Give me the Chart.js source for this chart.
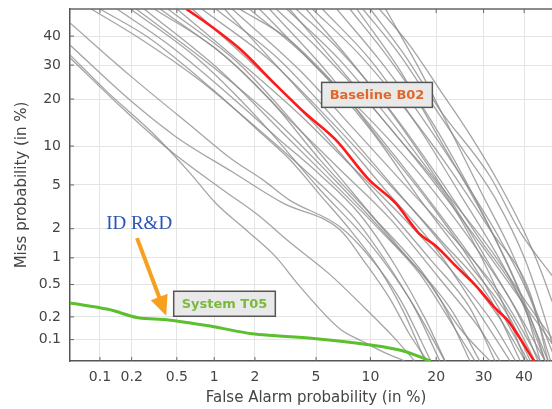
<!DOCTYPE html>
<html>
<head>
<meta charset="utf-8">
<script src="https://cdn.jsdelivr.net/npm/chart.js@4.4.0/dist/chart.umd.min.js"></script>
<style>
  html, body { margin: 0; padding: 0; background: #fff; overflow: hidden; }
  #wrap { width: 562px; height: 409px; }
</style>
</head>
<body>
<div id="wrap"><canvas id="det"></canvas></div>
<script>
'use strict';

// tick labels (percent)
var faTicks = [0.1, 0.2, 0.5, 1, 2, 5, 10, 20, 30, 40];
var missTicks = [0.1, 0.2, 0.5, 1, 2, 5, 10, 20, 30, 40];

// curves as [false alarm %, miss %]
var baselineB02 = [[0.6,50],[0.97,43.2],[1.6,35],[2.77,24],[4.3,16.5],[6.5,11.1],[9.8,5.56],[13.3,3.47],
  [16.9,1.81],[20,1.33],[24,0.8],[28.3,0.48],[32.4,0.27],[36.2,0.17],[42.6,0.05]];

var systemT05 = [[0.05,0.3],[0.12,0.25],[0.23,0.195],[0.41,0.184],[0.97,0.15],[1.9,0.12],[2.8,0.113],
  [5.0,0.103],[9.8,0.085],[14.3,0.07],[19,0.05]];

var otherSystems = [
  [[0.05,44.8],[0.19,26.9],[0.71,13.0],[1.37,7.97],[2.25,5.56],[3.42,3.7],[6.85,2.1],[10,1.0],[13.9,0.337],[19,0.05]],
  [[0.05,36.8],[0.195,19.6],[0.5,11.5],[1.37,6.4],[3.08,3.5],[6.85,1.96],[9.35,0.9],[12.5,0.337],[15.4,0.118],[18.4,0.05]],
  [[0.05,33.4],[0.117,22],[0.32,12.0],[0.63,6.4],[1.03,3.47],[1.75,1.92],[2.77,1.03],[3.96,0.48],[6.85,0.14],[9.15,0.094],[11.5,0.068],[14.6,0.05]],
  [[0.05,32.4],[0.152,18.5],[0.43,9.4],[1.16,4.56],[2.07,2.75],[3.42,1.47],[6.0,0.66],[9.35,0.26],[13.2,0.103],[16.2,0.05]],
  [[0.082,50],[0.234,39.3],[0.76,25.4],[1.93,14.0],[3.42,8.4],[5.45,4.87],[8.3,2.5],[11.8,0.95],[16.2,0.26],[20.7,0.05]],
  [[0.1,50],[0.288,39.3],[0.98,22.5],[2.07,13.0],[3.42,8.0],[5.25,4.16],[7.8,1.96],[11.1,0.755],[14.6,0.22],[18,0.05]],
  [[0.146,50],[0.43,36.8],[1.3,21.1],[2.94,11.1],[5.25,6.1],[8.8,2.75],[13.2,0.83],[18,0.19],[21.7,0.05]],
  [[0.195,50],[0.76,31.7],[2.15,15.0],[5.25,4.6],[10,1.4],[15.4,0.337],[21.7,0.05]],
  [[0.22,50],[0.92,30.3],[2.52,16.2],[6.0,6.1],[12.5,1.57],[20.7,0.337],[26.9,0.05]],
  [[0.36,50],[1.3,31.7],[3.42,15.0],[6.85,6.7],[12.5,2.5],[20.7,0.58],[29.1,0.14],[33.9,0.05]],
  [[0.42,50],[1.55,30.3],[3.96,13.0],[7.8,4.6],[13.9,1.25],[22.7,0.26],[29.1,0.05]],
  [[0.5,50],[1.83,28.4],[3.96,16.2],[7.8,7.3],[13.9,2.75],[22.7,0.755],[31.5,0.19],[37.8,0.05]],
  [[0.67,50],[2.15,28.4],[5.25,13.0],[11.1,3.76],[19,0.95],[26.9,0.26],[32.7,0.05]],
  [[0.8,50],[2.52,31.7],[6.0,15.0],[12.5,5.0],[20.7,1.57],[31.5,0.337],[39,0.05]],
  [[1.03,50],[2.94,31.7],[6.85,14.0],[13.9,4.16],[22.7,1.1],[33.9,0.19],[40.3,0.05]],
  [[1.37,50],[3.96,28.4],[7.8,14.0],[13.9,5.56],[22.7,1.77],[33.9,0.39],[44.2,0.05]],
  [[1.55,50],[3.42,38.6],[6.85,22.5],[12.5,9.4],[20.7,2.75],[29.1,0.755],[37.8,0.165],[42.8,0.05]],
  [[1.83,50],[4.55,31.7],[10,13.0],[17.1,3.76],[26.9,0.83],[36.4,0.19],[41.6,0.05]],
  [[2.15,50],[5.25,28.4],[10,15.0],[17.1,6.1],[26.9,1.57],[36.4,0.337],[45.5,0.05]],
  [[2.52,50],[6.0,26.9],[11.1,11.1],[19,3.38],[26.9,0.95],[35.1,0.19],[41,0.05]],
  [[2.8,50],[5.25,35.0],[10,18.5],[17.1,7.3],[26.9,1.96],[36.4,0.5],[47.4,0.088]],
  [[3.28,50],[6.85,31.7],[12.5,15.0],[20.7,5.0],[31.5,1.25],[41.6,0.26],[47.4,0.103]],
  [[3.76,50],[6.85,35.0],[12.5,17.3],[20.7,5.56],[29.1,1.57],[39,0.337],[45.5,0.05]],
  [[4.35,50],[7.8,31.7],[13.9,14.0],[22.7,3.76],[31.5,0.83],[39,0.19],[43.6,0.05]],
  [[4.75,50],[8.8,33.4],[15.4,16.2],[22.7,6.7],[31.5,1.96],[41.6,0.39],[46.3,0.05]],
  [[5.45,50],[10,31.7],[17.1,13.0],[24.8,4.16],[33.9,0.95],[41.6,0.19],[46.3,0.05]],
  [[6.6,50],[11.1,31.7],[17.1,16.2],[24.8,6.1],[33.9,1.57],[41.6,0.337],[47,0.05]],
  [[7.8,50],[12.5,31.7],[19,15.0],[25.8,5.56],[33.9,1.25],[40.3,0.26],[44.2,0.05]],
  [[8.5,50],[13.9,28.4],[20.7,11.1],[29.1,3.06],[36.4,0.755],[42.8,0.14],[45.5,0.05]],
  [[9.15,50],[13.9,33.4],[20,17.3],[25.4,9.4],[32.9,3.76],[40.3,0.95],[45.5,0.19],[47.4,0.088]],
  [[11.1,50],[15.4,36.8],[20.7,22.5],[26.9,12.0],[33.9,5.0],[40.3,1.77],[44.2,0.755],[47.4,0.31]],
  [[10,50],[14.6,33.4],[20.7,17.3],[31.5,5.9],[39,1.85],[47.4,0.63]],
  [[11.9,50],[17.1,28.4],[22.7,13.0],[29.1,4.6],[36.4,1.25],[42.8,0.26],[47.4,0.068]],
  [[0.26,50],[1.1,28.4],[2.94,13.0],[6.0,5.56],[11.1,1.96],[17.1,0.66],[23.7,0.14],[28,0.05]],
  [[1.2,50],[3.2,26.9],[6.4,13.0],[11.8,4.6],[20,1.25],[26.9,0.337],[36.4,0.05]],
  [[0.32,50],[1.07,35],[2.52,20],[5.25,8.0],[10,2.75],[17.1,0.755],[24.8,0.14],[31.5,0.05]],
  [[3.42,50],[7.8,25.4],[13.9,11.1],[21.7,4.16],[29.1,1.1],[35.1,0.26],[40.3,0.05]]
];

// annotation anchors, in percent
var baselineLabelAt = [10.8, 21.1];
var systemLabelAt = [1.2, 0.293];
var vendorLabelAt = [0.234, 2.2];
var arrowFrom = [0.224, 1.61];
var arrowTo = [0.406, 0.207];

// inverse normal CDF (Acklam)
function probit(p) {
  var a = [-39.69683028665376, 220.9460984245205, -275.9285104469687, 138.3577518672690, -30.66479806614716, 2.506628277459239];
  var b = [-54.47609879822406, 161.5858368580409, -155.6989798598866, 66.80131188771972, -13.28068155288572];
  var c = [-0.007784894002430293, -0.3223964580411365, -2.400758277161838, -2.549732539343734, 4.374664141464968, 2.938163982698783];
  var d = [0.007784695709041462, 0.3224671290700398, 2.445134137142996, 3.754408661907416];
  var lo = 0.02425, q, r;
  if (p < lo) {
    q = Math.sqrt(-2 * Math.log(p));
    return (((((c[0]*q+c[1])*q+c[2])*q+c[3])*q+c[4])*q+c[5]) / ((((d[0]*q+d[1])*q+d[2])*q+d[3])*q+1);
  }
  if (p <= 1 - lo) {
    q = p - 0.5; r = q * q;
    return (((((a[0]*r+a[1])*r+a[2])*r+a[3])*r+a[4])*r+a[5])*q / (((((b[0]*r+b[1])*r+b[2])*r+b[3])*r+b[4])*r+1);
  }
  q = Math.sqrt(-2 * Math.log(1 - p));
  return -(((((c[0]*q+c[1])*q+c[2])*q+c[3])*q+c[4])*q+c[5]) / ((((d[0]*q+d[1])*q+d[2])*q+d[3])*q+1);
}

function toPoints(curve) {
  return curve.map(function (p) { return { x: probit(p[0] / 100), y: probit(p[1] / 100) }; });
}

var datasets = [
  { data: toPoints(baselineB02), borderColor: '#ff1a1a', borderWidth: 2.6, order: 0 },
  { data: toPoints(systemT05), borderColor: '#5bbf2e', borderWidth: 3, order: 1 }
];
otherSystems.forEach(function (curve) {
  datasets.push({ data: toPoints(curve), borderColor: 'rgba(135,135,135,0.75)', borderWidth: 1.3, order: 2 });
});

var tickFont = { family: 'DejaVu Sans', size: 14 };
var titleFont = { family: 'DejaVu Sans', size: 15 };

function probitAxis(ticks, title) {
  return {
    type: 'linear',
    min: probit(0.0005),
    max: probit(0.5),
    afterBuildTicks: function (scale) {
      scale.ticks = ticks.map(function (v) { return { value: probit(v / 100) }; });
    },
    ticks: {
      autoSkip: false,
      maxRotation: 0,
      color: '#454545',
      font: tickFont,
      callback: function (value, i) { return String(ticks[i]); }
    },
    grid: { color: '#e4e4e4', lineWidth: 1, drawTicks: false },
    border: { color: '#555', width: 1.5 },
    title: { display: true, text: title, color: '#454545', font: titleFont }
  };
}

var xAxis = probitAxis(faTicks, 'False Alarm probability (in %)');
xAxis.ticks.padding = 8;
xAxis.title.padding = { top: 0, bottom: 2 };
xAxis.afterFit = function (scale) { scale.height = 48; };

var yAxis = probitAxis(missTicks, 'Miss probability (in %)');
yAxis.ticks.padding = 9;
yAxis.title.padding = { top: 13, bottom: 0 };
yAxis.afterFit = function (scale) {
  scale.width = 70;
  // the plot box starts right at the top padding, labels may overhang
  scale.paddingTop = 0;
  scale.paddingBottom = 0;
};

function drawBox(ctx, text, x, y, color) {
  ctx.font = 'bold 13px "DejaVu Sans"';
  var w = ctx.measureText(text).width + 16, h = 25;
  ctx.fillStyle = '#e9e9e9';
  ctx.fillRect(x - w / 2, y - h / 2, w, h);
  ctx.strokeStyle = '#555';
  ctx.lineWidth = 1.5;
  ctx.strokeRect(x - w / 2, y - h / 2, w, h);
  ctx.fillStyle = color;
  ctx.textAlign = 'center';
  ctx.textBaseline = 'middle';
  ctx.fillText(text, x, y + 1);
}

var decorations = {
  id: 'decorations',
  afterDatasetsDraw: function (chart) {
    var ctx = chart.ctx, area = chart.chartArea, xs = chart.scales.x, ys = chart.scales.y;
    function px(p) { return xs.getPixelForValue(probit(p[0] / 100)); }
    function py(p) { return ys.getPixelForValue(probit(p[1] / 100)); }
    ctx.save();

    // top frame and inner tick marks
    ctx.strokeStyle = '#666';
    ctx.lineWidth = 1.5;
    ctx.beginPath();
    ctx.moveTo(area.left, area.top);
    ctx.lineTo(area.right, area.top);
    ctx.stroke();
    ctx.lineWidth = 1;
    ctx.beginPath();
    xs.ticks.forEach(function (t) {
      var x = xs.getPixelForValue(t.value);
      ctx.moveTo(x, area.bottom); ctx.lineTo(x, area.bottom - 4);
      ctx.moveTo(x, area.top); ctx.lineTo(x, area.top + 4);
    });
    ys.ticks.forEach(function (t) {
      var y = ys.getPixelForValue(t.value);
      ctx.moveTo(area.left, y); ctx.lineTo(area.left + 4, y);
    });
    ctx.stroke();

    drawBox(ctx, 'Baseline B02', px(baselineLabelAt), py(baselineLabelAt), '#e2672a');
    drawBox(ctx, 'System T05', px(systemLabelAt), py(systemLabelAt), '#7cb83e');

    // vendor label and arrow
    ctx.font = '19px "Liberation Serif"';
    ctx.fillStyle = '#2a55b5';
    ctx.textAlign = 'center';
    ctx.textBaseline = 'middle';
    ctx.fillText('ID R&D', px(vendorLabelAt), py(vendorLabelAt));

    var x0 = px(arrowFrom), y0 = py(arrowFrom), x1 = px(arrowTo), y1 = py(arrowTo);
    var ang = Math.atan2(y1 - y0, x1 - x0), head = 20;
    ctx.strokeStyle = '#f7a01e';
    ctx.fillStyle = '#f7a01e';
    ctx.lineWidth = 4;
    ctx.beginPath();
    ctx.moveTo(x0, y0);
    ctx.lineTo(x1 - head * 0.8 * Math.cos(ang), y1 - head * 0.8 * Math.sin(ang));
    ctx.stroke();
    ctx.beginPath();
    ctx.moveTo(x1, y1);
    ctx.lineTo(x1 - head * Math.cos(ang) + 9 * Math.sin(ang), y1 - head * Math.sin(ang) - 9 * Math.cos(ang));
    ctx.lineTo(x1 - head * Math.cos(ang) - 9 * Math.sin(ang), y1 - head * Math.sin(ang) + 9 * Math.cos(ang));
    ctx.closePath();
    ctx.fill();

    ctx.restore();
  }
};

new Chart(document.getElementById('det').getContext('2d'), {
  type: 'line',
  data: { datasets: datasets },
  options: {
    responsive: true,
    maintainAspectRatio: false,
    animation: false,
    events: [],
    layout: { padding: { top: 9, right: 0, bottom: 0, left: 0 } },
    elements: { point: { radius: 0 }, line: { cubicInterpolationMode: 'monotone', fill: false } },
    plugins: { legend: { display: false }, tooltip: { enabled: false } },
    scales: { x: xAxis, y: yAxis }
  },
  plugins: [decorations]
});
</script>
</body>
</html>
